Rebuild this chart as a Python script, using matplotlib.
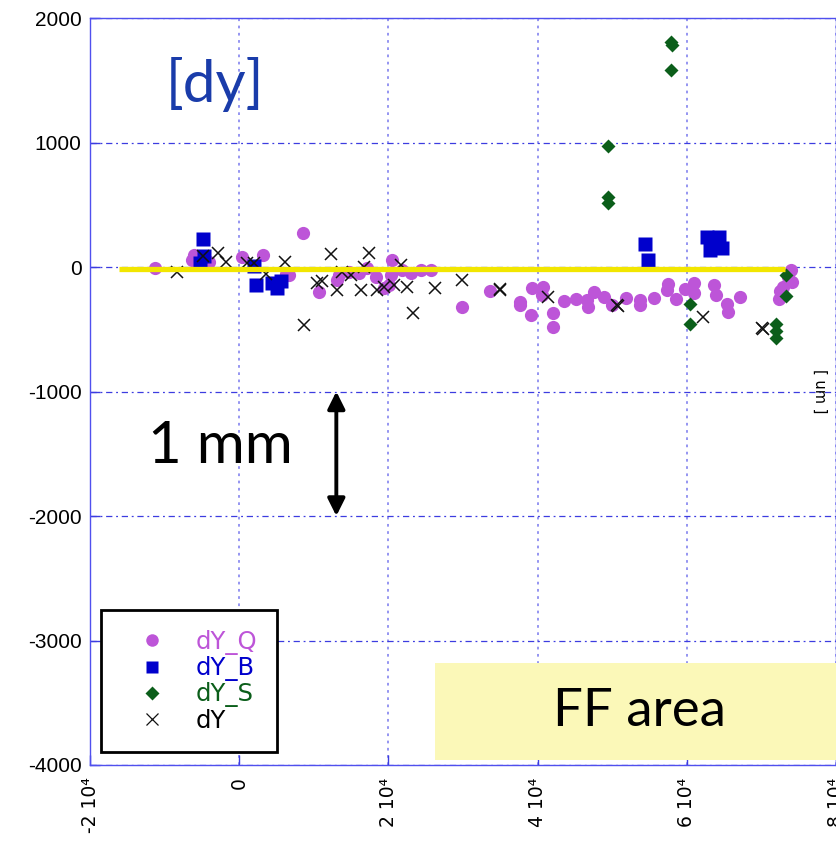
import matplotlib
matplotlib.use("Agg")
import matplotlib.pyplot as plt
from matplotlib.lines import Line2D
from matplotlib.patches import Rectangle

# ---------------- data ----------------
q_x = [-11280, -6040, -6310, -4030, 400, 3220, 6310, 6710, 8590, 10740,
       13150, 13420, 14770, 16110, 17180, 18390, 20540, 20400, 19460, 20130,
       21880, 23090, 24430, 25770, 29800, 33560, 37580, 37580, 39060, 39200,
       40670, 40540, 42010, 42010, 43490, 45100, 46580, 46710, 47520, 48860,
       49930, 51810, 53690, 53690, 55570, 57450, 57320, 58520, 59730, 60940,
       60940, 63620, 63890, 65370, 65500, 67120, 72480, 72350, 73960, 74090,
       73560, 72890]
q_y = [-8, 96, 56, 40, 80, 96, -56, -64, 273, -201,
       -104, -64, -40, -48, -8, -80, 56, -64, -169, -144,
       -24, -48, -24, -24, -321, -193, -281, -305, -385, -169,
       -161, -225, -369, -482, -273, -257, -265, -321, -201, -241,
       -305, -249, -265, -305, -249, -136, -185, -257, -177, -128,
       -209, -144, -225, -297, -361, -241, -193, -257, -24, -120,
       -80, -161]

b_x = [-4830, -4700, -5230, 2010, 2280, 4430, 5100, 5640,
       54360, 54770, 62690, 64300, 63090, 64700]
b_y = [225, 88, 32, 8, -144, -128, -169, -112,
       185, 56, 241, 241, 136, 152]

s_x = [57850, 57990, 57850, 49400, 49400, 49400, 60400, 60400,
       73290, 73290, 71950, 71950, 71950]
s_y = [1806, 1782, 1581, 971, 562, 514, -297, -457,
       -64, -233, -457, -514, -570]

d_x = [-8320, -4830, -2820, -1740, 1070, 2010, 3620, 6170, 8720, 10470,
       11140, 12350, 13150, 13830, 15030, 16780, 16380, 17450, 18520, 19460,
       20810, 21750, 22550, 23360, 26310, 29930, 34900, 35000, 41340, 50600,
       50800, 62150, 70070, 70200]
d_y = [-40, 88, 112, 40, 32, 32, -56, 40, -466, -128,
       -112, 104, -185, -40, -64, 0, -185, 112, -185, -161,
       -144, 16, -161, -369, -169, -104, -177, -185, -241, -305,
       -313, -401, -490, -497]

fit_x = [-16100, 73100]
fit_y = [-20, -20]

x_ticks = [-20000, 0, 20000, 40000, 60000, 80000]
x_labels = ["-2 10\u2074", "0", "2 10\u2074", "4 10\u2074", "6 10\u2074", "8 10\u2074"]
y_ticks = [-4000, -3000, -2000, -1000, 0, 1000, 2000]
y_labels = ["-4000", "-3000", "-2000", "-1000", "0", "1000", "2000"]

# ---------------- figure ----------------
W, H = 837, 842
fig = plt.figure(figsize=(W / 100, H / 100), dpi=100)
ax = fig.add_axes([90 / W, (H - 765) / H, (836 - 90) / W, (765 - 18) / H])

c_q = "#bd55d8"
c_b = "#0000cc"
c_s = "#0b5e1a"
c_d = "#111111"

ax.plot(q_x, q_y, "o", color=c_q, ms=9.5, mec="none", zorder=3)
ax.plot(b_x, b_y, "s", color=c_b, ms=9.5, mec="none", zorder=4)
ax.plot(s_x, s_y, "D", color=c_s, ms=7, mec="none", zorder=5)
ax.plot(d_x, d_y, "x", color=c_d, ms=8.5, mew=1.1, zorder=6)
ax.plot(fit_x, fit_y, "-", color="#f2e600", lw=3.8, solid_capstyle="butt", zorder=7)

ax.set_xlim(-20000, 80000)
ax.set_ylim(-4000, 2000)
ax.set_xticks(x_ticks)
ax.set_xticklabels(x_labels, rotation=90, family=["DejaVu Sans"], fontsize=13.5, va="top")
ax.set_yticks(y_ticks)
ax.set_yticklabels(y_labels, family=["Liberation Sans"], fontsize=15)

ax.xaxis.grid(True, color="#8c8cf0", ls=(0, (1.5, 2.5)), lw=1.3, zorder=0)
ax.yaxis.grid(True, color="#3c3ce0", ls=(0, (5, 3, 1.5, 3)), lw=0.9, zorder=0)
ax.set_axisbelow(True)

for sp in ax.spines.values():
    sp.set_color("#5050ee")
    sp.set_linewidth(1.0)
ax.tick_params(axis="both", direction="in", color="#3c3ce0", length=7, width=1, pad=6)
ax.tick_params(axis="x", pad=9)

# FF area box
ax.add_patch(Rectangle((0.4625, 0.0067), 0.56, 0.13, transform=ax.transAxes,
                       facecolor="#fbf8b8", edgecolor="none", zorder=8, clip_on=False))
ax.text(0.737, 0.071, "FF area", transform=ax.transAxes, ha="center", va="center",
        fontsize=38, family=["Lato", "DejaVu Sans"], color="black", zorder=9)

# annotation texts
ax.text(0.168, 0.911, "[dy]", transform=ax.transAxes, ha="center", va="center",
        fontsize=42, family=["Lato", "DejaVu Sans"], color="#1a3caa", zorder=9)
ax.text(0.175, 0.427, "1 mm", transform=ax.transAxes, ha="center", va="center",
        fontsize=42, family=["Lato", "DejaVu Sans"], color="black", zorder=9)
ax.annotate("", xy=(13020, -1000), xytext=(13020, -2000),
            arrowprops=dict(arrowstyle="<|-|>", color="black", lw=2.8,
                            mutation_scale=26, shrinkA=0, shrinkB=0), zorder=9)
ax.text(0.978, 0.5, "[ um ]", transform=ax.transAxes, ha="center", va="center",
        rotation=270, fontsize=10.5, family=["DejaVu Sans"], color="black")

# legend
handles = [
    Line2D([], [], ls="none", marker="o", color=c_q, ms=9, mec="none"),
    Line2D([], [], ls="none", marker="s", color=c_b, ms=9, mec="none"),
    Line2D([], [], ls="none", marker="D", color=c_s, ms=7, mec="none"),
    Line2D([], [], ls="none", marker="x", color=c_d, ms=8.5, mew=0.9),
]
leg = ax.legend(handles, ["dY_Q", "dY_B", "dY_S", "dY"], loc="lower left",
                bbox_to_anchor=(0.0147, 0.0174), borderaxespad=0, frameon=True,
                fancybox=False, edgecolor="black", framealpha=1,
                labelcolor=[c_q, c_b, c_s, "black"],
                prop={"family": "DejaVu Sans", "size": 17.5},
                handletextpad=0.5, borderpad=0.8, labelspacing=0.05,
                handlelength=2.6)
leg.get_frame().set_linewidth(2)
leg.set_zorder(10)

fig.savefig("out.png", dpi=100)
